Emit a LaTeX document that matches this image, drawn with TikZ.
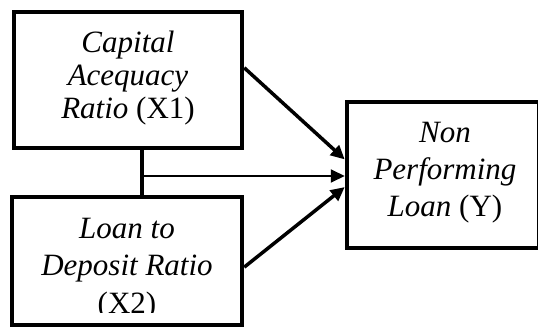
\documentclass[tikz,border=0pt]{standalone}
\usepackage{fontspec}
\setmainfont{Liberation Serif}
\usetikzlibrary{arrows.meta}
\begin{document}
\begin{tikzpicture}[x=1pt,y=-1pt,
  box/.style={draw=black,line width=4.5pt,fill=white,inner sep=0pt,rectangle},
  lbl/.style={align=center,inner sep=0pt,anchor=north},
  thick arrow/.style={line width=3.5pt,-{Triangle[length=14pt,width=13pt]}},
  thin arrow/.style={line width=2pt,-{Triangle[length=14pt,width=13pt]}}]
\useasboundingbox (0,0) rectangle (538,329);
% boxes
\node[box,minimum width=228pt,minimum height=136pt] (x1) at (128,80) {};
\node[box,minimum width=230pt,minimum height=128pt] (x2) at (127,261) {};
\node[box,minimum width=192pt,minimum height=146pt] (y) at (443,175) {};
% texts
\node[lbl,font=\fontsize{31}{33}\selectfont] (t1) at (128,31) {\textit{Capital}\\\textit{Acequacy}\\\textit{Ratio} (X1)};
\begin{scope}
\clip (14,199) rectangle (240,312);
\node[lbl,font=\fontsize{31}{37.5}\selectfont] (t2) at (127,217.5) {\textit{Loan to}\\\textit{Deposit Ratio}\\(X2)};
\end{scope}
\node[lbl,font=\fontsize{31}{37}\selectfont] (t3) at (445,122.5) {\textit{Non}\\\textit{Performing}\\\textit{Loan} (Y)};
% connectors
\coordinate (j) at (142,176);
\draw[line width=4pt] (x1.south -| j) -- (x2.north -| j);
\draw[thin arrow] (j) -- (y.west |- j);
\draw[thick arrow] (x1.6) -- (y.171);
\draw[thick arrow] (x2.-3) -- (y.187);
\end{tikzpicture}
\end{document}
